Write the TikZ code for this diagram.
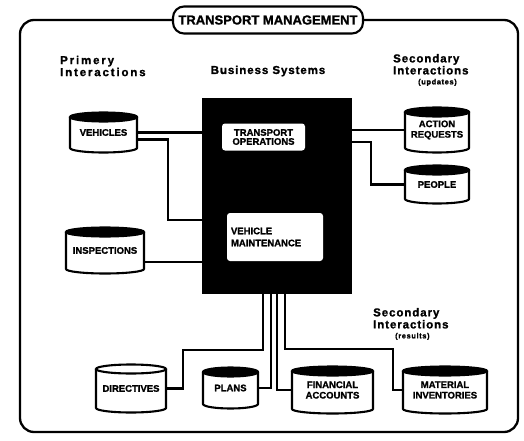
\documentclass[tikz,border=0pt]{standalone}
\usepackage{fontspec}
\setmainfont{Liberation Sans}[BoldFeatures={FakeBold=1.3}]
\newfontfamily\headfont[LetterSpace=8, BoldFeatures={FakeBold=1.3}]{Liberation Sans}
\newfontfamily\wideheadfont[LetterSpace=16, BoldFeatures={FakeBold=1.3}]{Liberation Sans}

\tikzset{
  wire/.style={line width=2.2pt},
  frameline/.style={line width=2.3pt, rounded corners=14pt},
  storebody/.style={draw=black, line width=2.1pt, fill=white},
  storecap/.style={draw=black, line width=2.1pt},
  storelabel/.style={inner sep=0pt, align=center,
    font=\fontsize{9.5}{10.5}\selectfont\bfseries},
  head/.style={inner sep=0pt, anchor=west, align=left,
    font=\headfont\fontsize{11.5}{12}\selectfont\bfseries},
  titlebox/.style={draw, fill=white, line width=2.1pt, rounded corners=11pt,
    minimum width=190pt, minimum height=27pt, inner sep=0pt,
    font=\fontsize{13}{14}\selectfont\bfseries},
  panel/.style={fill=white, rounded corners=3pt, inner sep=0pt,
    font=\fontsize{9.5}{12}\selectfont\bfseries}
}

% data store drawn as a cylinder: name, cap fill, centre x, centre y,
% half width, half height of the body, label
\newcommand\datastore[7]{%
  \draw[storebody] ({#3-#5},{#4-#6}) -- ({#3-#5},{#4+#6})
    arc[start angle=180, end angle=360, x radius=#5pt, y radius=4.5pt]
    -- ({#3+#5},{#4-#6});
  \draw[storecap, fill=#2] (#3,{#4-#6}) ellipse[x radius=#5pt, y radius=4.5pt];
  \node[storelabel, minimum width={2*#5pt}, minimum height={2*#6pt}] (#1) at (#3,#4) {#7};
}

\begin{document}
\begin{tikzpicture}[x=1pt, y=-1pt]
\useasboundingbox (0,0) rectangle (524,441);

% title and surrounding frame
\node[titlebox] (title) at (268,20) {TRANSPORT MANAGEMENT};
\draw[frameline] (title.west) -- (20,20) -- (20,432) -- (518,432) -- (518,20) -- (title.east);

% column headings
\node[head, font=\wideheadfont\fontsize{11.5}{12}\selectfont\bfseries] (prim) at (60,66) {Primery\\Interactions};
\node[head, anchor=center] (bushead) at (268,71) {Business Systems};
\node[head] (secup) at (393,70) {Secondary\\Interactions\\[-2pt]\hspace*{25pt}{\fontsize{7.5}{9}\selectfont(updates)}};
\node[head] (secres) at (373,324) {Secondary\\Interactions\\[-2pt]\hspace*{22pt}{\fontsize{7.5}{9}\selectfont(results)}};

% business systems block
\node[fill=black, minimum width=150pt, minimum height=196pt, inner sep=0pt] (bs) at (277,196) {};
\node[panel, minimum width=83pt, minimum height=27pt, align=center] (ops) at (263.5,137) {TRANSPORT\\[-3pt]OPERATIONS};
\node[panel, minimum width=96pt, minimum height=48pt, text width=88pt, align=left] (maint) at (275,237) {VEHICLE\\MAINTENANCE};

% data stores
\datastore{veh}{black}{103.5}{132.5}{33.5}{15.5}{VEHICLES}
\datastore{insp}{black}{105}{250.5}{39}{18.5}{INSPECTIONS}
\datastore{act}{black}{437}{130}{32}{18}{ACTION\\REQUESTS}
\datastore{ppl}{black}{437}{184.5}{32}{14.5}{PEOPLE}
\datastore{dir}{white}{131}{388.5}{35}{19.5}{DIRECTIVES}
\datastore{pln}{black}{230.5}{388}{27.5}{16}{PLANS}
\datastore{fin}{black}{332.5}{390}{40.5}{19}{FINANCIAL\\ACCOUNTS}
\datastore{mat}{black}{445}{390}{42}{19}{MATERIAL\\INVENTORIES}

% bend points of the connectors
\coordinate (vport) at ([yshift=-7pt]veh.east);
\coordinate (vbend) at (168,220);
\coordinate (iport) at ([yshift=-11.5pt]insp.east);
\coordinate (pbend) at (371,142);
\coordinate (d1) at (263,350);
\coordinate (d2) at (183,350);
\coordinate (p1) at (271,389);
\coordinate (f1) at (277,389);
\coordinate (m1) at (285,349);
\coordinate (m2) at (393,349);

% primary interactions
\draw[wire] (veh.east) -- (veh.east -| bs.west);
\draw[wire] (vport) -| (vbend) -- (vbend -| bs.west);
\draw[wire] (iport) -- (iport -| bs.west);

% secondary interactions (updates)
\draw[wire] (bs.east |- act.west) -- (act.west);
\draw[wire] (pbend -| bs.east) -- (pbend) |- (ppl.west);

% secondary interactions (results)
\draw[wire] (bs.south -| d1) -- (d1) -- (d2) |- (dir.east);
\draw[wire] (bs.south -| p1) |- (pln.east);
\draw[wire] (bs.south -| f1) |- (fin.west);
\draw[wire] (bs.south -| m1) -- (m1) -- (m2) |- (mat.west);
\end{tikzpicture}
\end{document}
